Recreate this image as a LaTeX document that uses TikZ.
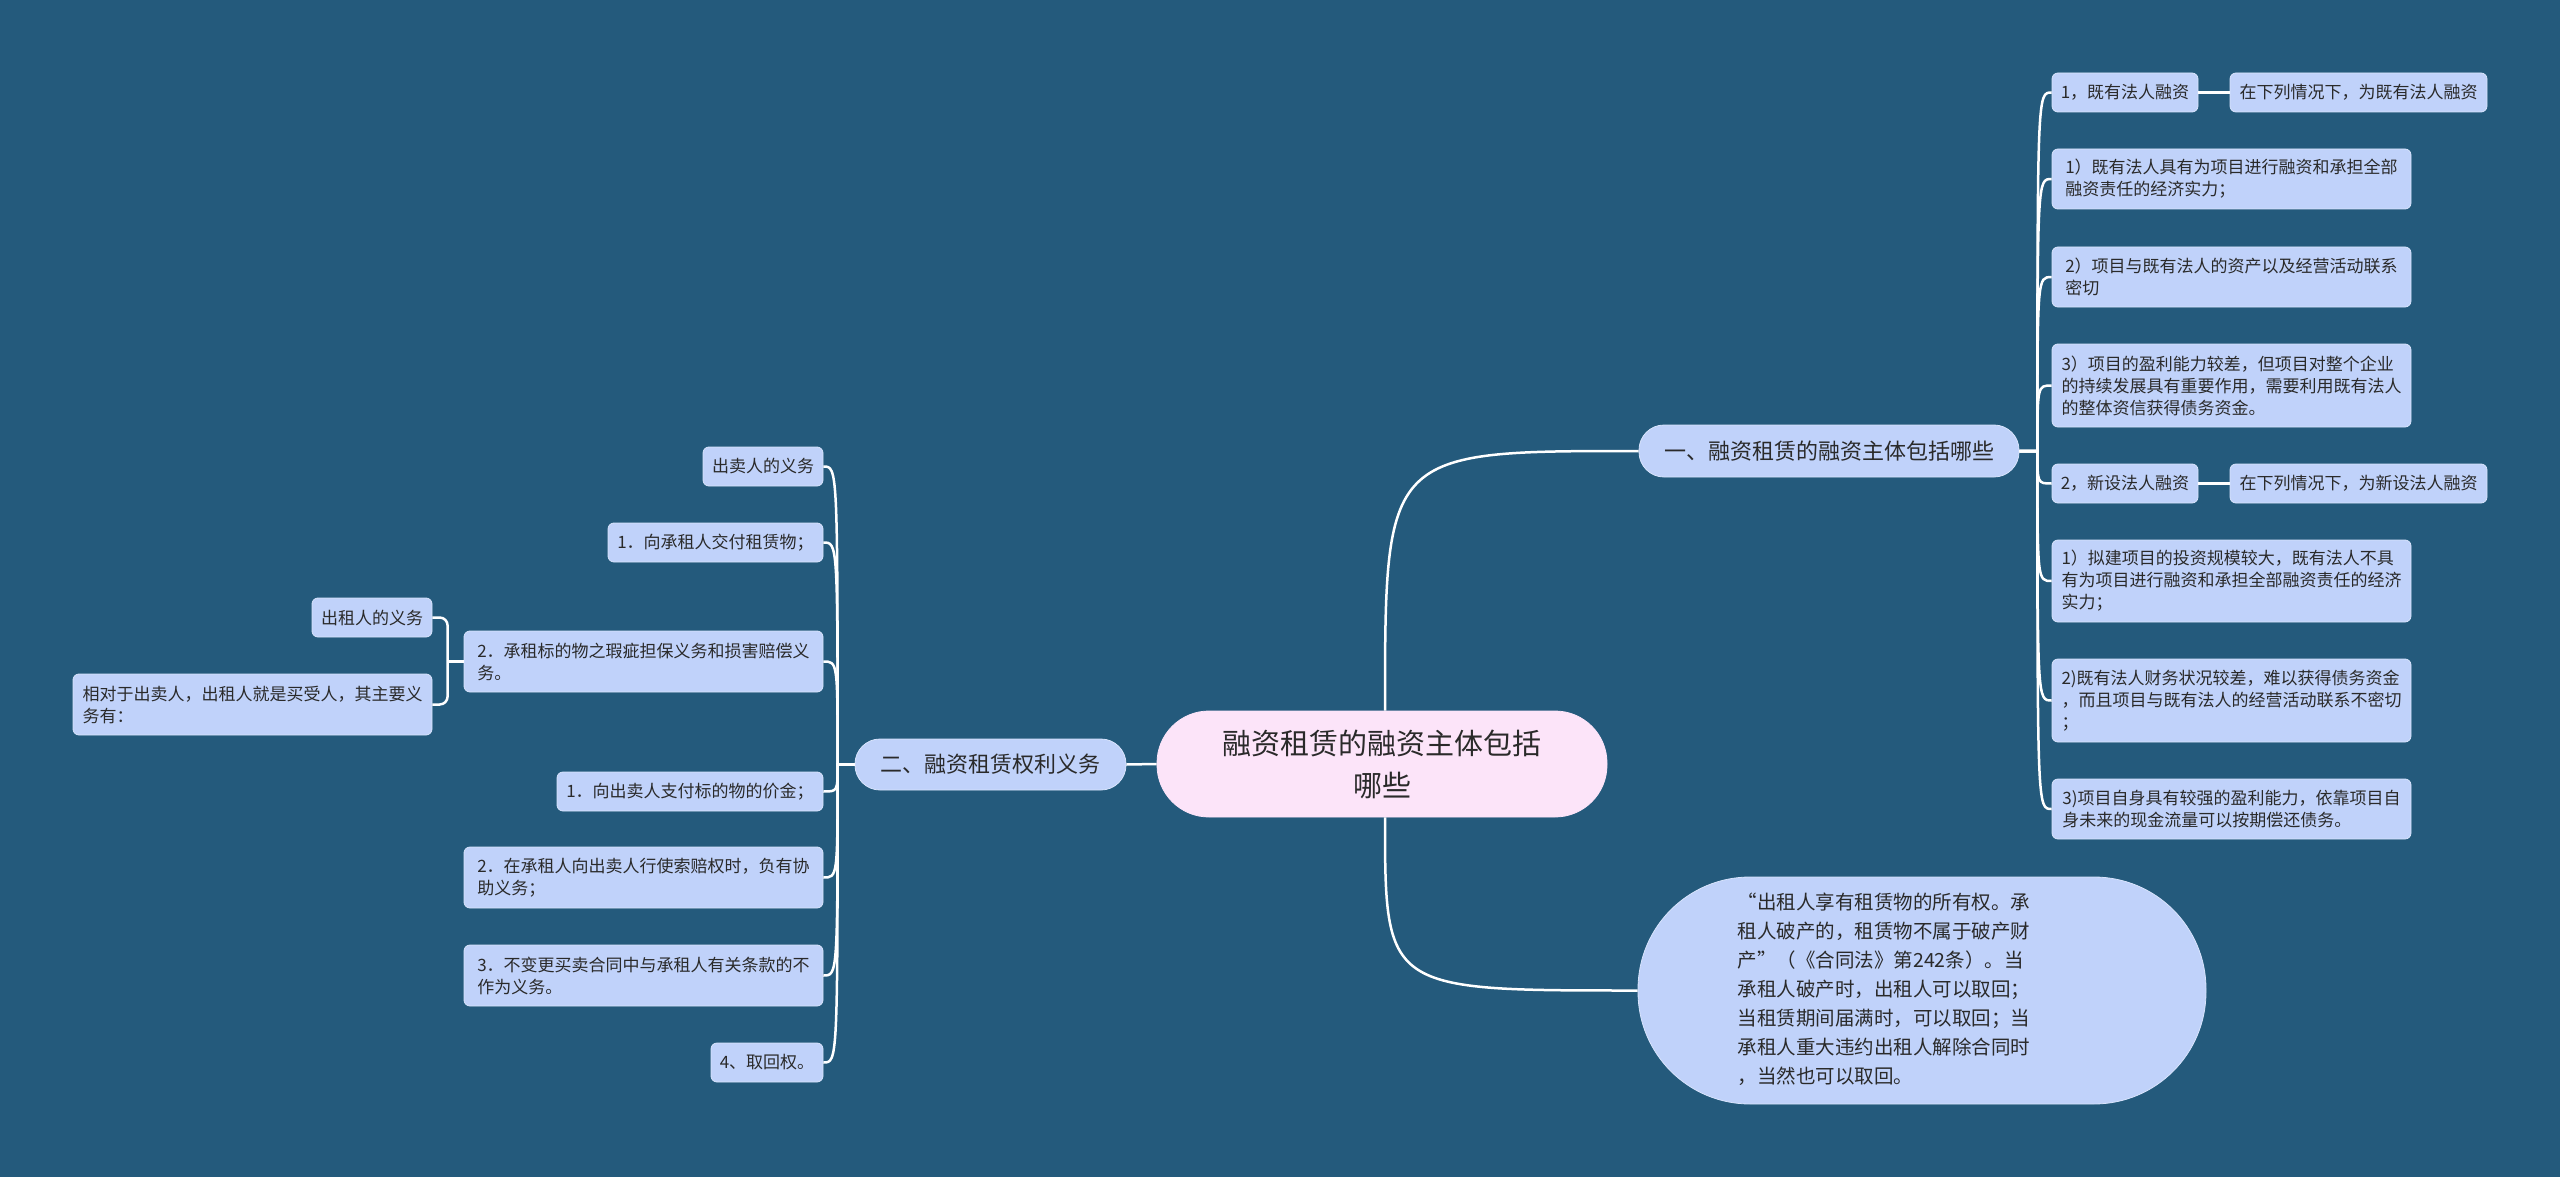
\documentclass[tikz,border=0pt]{standalone}
\usepackage{fontspec}
\setmainfont{Noto Sans CJK SC}
\usetikzlibrary{calc}
\definecolor{bg}{HTML}{245A7C}
\definecolor{leafc}{HTML}{C0D2FA}
\definecolor{rootc}{HTML}{FCE4F9}
\definecolor{txt}{HTML}{2A2A2A}
\definecolor{edgec}{HTML}{D8E4FC}
\begin{document}
\begin{tikzpicture}[x=1pt,y=-1pt,
  box/.style={fill=leafc, draw=edgec, line width=0.8pt, rounded corners=6pt, text=txt, align=left, inner sep=0pt},
  leaf/.style={box, font=\fontsize{17pt}{22pt}\selectfont},
  branch/.style={box, rounded corners=25pt, font=\fontsize{22pt}{26pt}\selectfont},
  rootnode/.style={box, fill=rootc, draw=rootc, rounded corners=52pt, align=center, font=\fontsize{29pt}{42pt}\selectfont},
  big/.style={box, rounded corners=112pt, font=\fontsize{19.5pt}{29pt}\selectfont},
  link/.style={draw=white, line width=2.5pt},
  sz/.style 2 args={minimum width=#1pt, minimum height=#2pt}
]
\fill[bg] (0,0) rectangle (2560,1177);
\useasboundingbox (0,0) rectangle (2560,1177);

% root and main branches
\node[rootnode, sz={450}{106}] (root) at (1382,764) {融资租赁的融资主体包括\\哪些};
\node[branch, sz={380}{52}] (b1) at (1829,451) {一、融资租赁的融资主体包括哪些};
\node[branch, sz={271}{51}] (b2) at (990.5,764.5) {二、融资租赁权利义务};
\node[big, sz={568}{227}] (big) at (1922,990.5) {\begin{tabular}{@{}l@{}}“出租人享有租赁物的所有权。承\\租人破产的，租赁物不属于破产财\\产”（《合同法》第242条）。当\\承租人破产时，出租人可以取回；\\当租赁期间届满时，可以取回；当\\承租人重大违约出租人解除合同时\\，当然也可以取回。\end{tabular}\hspace{76pt}};

% right leaves
\node[leaf, sz={146}{39}] (r1) at (2125,92.5) {1，既有法人融资};
\node[leaf, sz={257}{39}] (r1a) at (2358.5,92.5) {在下列情况下，为既有法人融资};
\node[leaf, sz={359}{60}] (r2) at (2231.5,179) {1）既有法人具有为项目进行融资和承担全部\\融资责任的经济实力；};
\node[leaf, sz={359}{60}] (r3) at (2231.5,277) {2）项目与既有法人的资产以及经营活动联系\\密切};
\node[leaf, sz={359}{83}] (r4) at (2231.5,385.5) {3）项目的盈利能力较差，但项目对整个企业\\的持续发展具有重要作用，需要利用既有法人\\的整体资信获得债务资金。};
\node[leaf, sz={146}{39}] (r5) at (2125,483.5) {2，新设法人融资};
\node[leaf, sz={257}{39}] (r5a) at (2358.5,483.5) {在下列情况下，为新设法人融资};
\node[leaf, sz={359}{82}] (r6) at (2231.5,581) {1）拟建项目的投资规模较大，既有法人不具\\有为项目进行融资和承担全部融资责任的经济\\实力；};
\node[leaf, sz={359}{83}] (r7) at (2231.5,700.5) {2)既有法人财务状况较差，难以获得债务资金\\，而且项目与既有法人的经营活动联系不密切\\；};
\node[leaf, sz={359}{60}] (r8) at (2231.5,809) {3)项目自身具有较强的盈利能力，依靠项目自\\身未来的现金流量可以按期偿还债务。};

% left leaves
\node[leaf, sz={120}{39}] (l0) at (763,466.5) {出卖人的义务};
\node[leaf, sz={215}{39}] (l1) at (715.5,542.5) {1．向承租人交付租赁物；};
\node[leaf, sz={359}{61}] (l2) at (643.5,661.5) {2．承租标的物之瑕疵担保义务和损害赔偿义\\务。};
\node[leaf, sz={120}{39}] (l2a) at (372,617.5) {出租人的义务};
\node[leaf, sz={359}{61}] (l2b) at (252.5,704.5) {相对于出卖人，出租人就是买受人，其主要义\\务有：};
\node[leaf, sz={266}{39}] (l3) at (690,791.5) {1．向出卖人支付标的物的价金；};
\node[leaf, sz={359}{61}] (l4) at (643.5,877.5) {2．在承租人向出卖人行使索赔权时，负有协\\助义务；};
\node[leaf, sz={359}{61}] (l5) at (643.5,975.5) {3．不变更买卖合同中与承租人有关条款的不\\作为义务。};
\node[leaf, sz={112}{39}] (l6) at (767,1062.5) {4、取回权。};

% connectors
\draw[link] (root.west) -- (b2.east);
\draw[link] ($(root.north)+(3,0)$) .. controls ($(root.north |- b1.west)+(3,0)$) .. (b1.west);
\draw[link] ($(root.south)+(3,0)$) .. controls ($(root.south |- big.west)+(3,0)$) .. (big.west);

\coordinate (rs) at ($(b1.east)+(18,0)$);
\foreach \n in {r1,r2,r3,r4,r5,r6,r7,r8}
  \draw[link] (b1.east) -- (rs) .. controls (rs |- \n.west) .. (\n.west);
\draw[link] (r1.east) -- (r1a.west);
\draw[link] (r5.east) -- (r5a.west);

\coordinate (ls) at ($(b2.west)+(-17,0)$);
\foreach \n in {l0,l1,l2,l3,l4,l5,l6}
  \draw[link] (b2.west) -- (ls) .. controls (ls |- \n.east) .. (\n.east);

\coordinate (lb) at ($(l2.west)+(-16,0)$);
\draw[link] (l2.west) -- (lb);
\draw[link, rounded corners=8pt] (l2a.east) -| (lb) |- (l2b.east);
\end{tikzpicture}
\end{document}
